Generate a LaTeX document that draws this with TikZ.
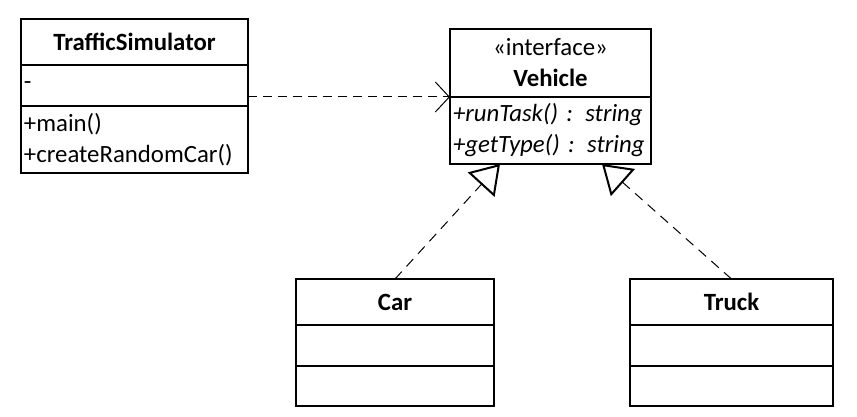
\documentclass[tikz,border=0pt]{standalone}
\usepackage{fontspec}
\setmainfont{Carlito}
\usetikzlibrary{arrows.meta, positioning}

\begin{document}
\begin{tikzpicture}[
    x=0.5pt, y=-0.5pt,
    node distance=0pt,
    part/.style={rectangle, draw, line width=1pt, inner xsep=1.5pt, inner ysep=0pt,
                 outer sep=0pt, font=\fontsize{12.4}{15.5}\selectfont},
    head/.style={part, align=center, minimum height=23pt},
    attrs/.style={part, align=left, minimum height=20.5pt},
    ops/.style={part, align=left, minimum height=33.5pt},
    dep/.style={-{Straight Barb[length=7pt, width=15pt]}, dash pattern=on 4.5pt off 3pt,
                line width=0.5pt},
    realize/.style={-{Triangle[open, length=14pt, width=18pt, line width=1pt]},
                    dash pattern=on 5pt off 3.5pt, line width=0.5pt}
]
\useasboundingbox (0,0) rectangle (857,417);

% TrafficSimulator
\node[head, text width=110.5pt, anchor=north west] (sim) at (21,19) {\bfseries TrafficSimulator};
\node[attrs, text width=110.5pt, below=of sim] (simattr) {-};
\node[ops, text width=110.5pt, below=of simattr] (simops) {+main()\\+createRandomCar()};

% Vehicle interface
\node[head, text width=97.5pt, minimum height=34pt, anchor=north west] (veh) at (450,29)
    {«interface»\\\textbf{Vehicle}};
\node[ops, text width=97.5pt, below=of veh] (vehops) {\itshape +runTask() : string\\+getType() : string};

% Car
\node[head, text width=96pt, anchor=north west] (car) at (296,279) {\bfseries Car};
\node[attrs, text width=96pt, below=of car] (carattr) {};
\node[ops, text width=96pt, minimum height=20pt, below=of carattr] (carops) {};

% Truck
\node[head, text width=98.5pt, anchor=north west] (truck) at (630,279) {\bfseries Truck};
\node[attrs, text width=98.5pt, below=of truck] (truckattr) {};
\node[ops, text width=98.5pt, minimum height=20pt, below=of truckattr] (truckops) {};

\draw[dep] (simattr.east |- vehops.north) -- (vehops.north west);
\draw[realize] (car.north) -- ([xshift=25pt]vehops.south west);
\draw[realize] (truck.north) -- ([xshift=-24.5pt]vehops.south east);
\end{tikzpicture}
\end{document}
